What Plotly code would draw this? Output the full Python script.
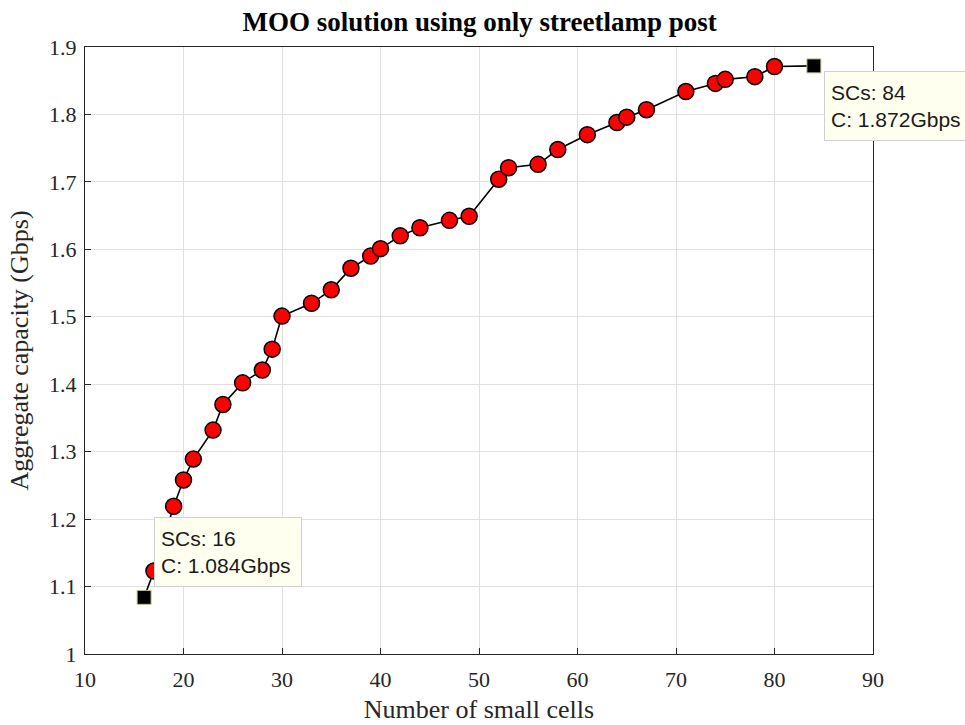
import plotly.graph_objects as go

# Data
sc_counts = [16, 17, 19, 20, 21, 23, 24, 26, 28, 29, 30, 33, 35, 37, 39, 40, 42, 44,
             47, 49, 52, 53, 56, 58, 61, 64, 65, 67, 71, 74, 75, 78, 80, 84]
capacity = [1.084, 1.123, 1.219, 1.258, 1.289, 1.332, 1.370, 1.402, 1.421, 1.452, 1.501,
            1.520, 1.540, 1.572, 1.590, 1.601, 1.620, 1.632, 1.643, 1.649, 1.704, 1.721,
            1.726, 1.748, 1.770, 1.788, 1.796, 1.807, 1.834, 1.846, 1.852, 1.856, 1.871, 1.872]

x_ticks = [10, 20, 30, 40, 50, 60, 70, 80, 90]
y_ticks = [1.0, 1.1, 1.2, 1.3, 1.4, 1.5, 1.6, 1.7, 1.8, 1.9]
y_tick_labels = ["1", "1.1", "1.2", "1.3", "1.4", "1.5", "1.6", "1.7", "1.8", "1.9"]

end_x = [sc_counts[0], sc_counts[-1]]
end_y = [capacity[0], capacity[-1]]

serif = "Liberation Serif, Times New Roman, serif"

fig = go.Figure()
fig.add_trace(go.Scatter(
    x=sc_counts, y=capacity, mode="lines",
    line=dict(color="black", width=1.6),
    showlegend=False, hoverinfo="skip"))
fig.add_trace(go.Scatter(
    x=sc_counts[1:-1], y=capacity[1:-1], mode="markers",
    marker=dict(symbol="circle", size=16, color="#ff0000",
                line=dict(color="black", width=1.5)),
    showlegend=False, hoverinfo="skip"))
fig.add_trace(go.Scatter(
    x=end_x, y=end_y, mode="markers",
    marker=dict(symbol="square", size=14, color="black",
                line=dict(color="#c8c890", width=1)),
    showlegend=False, hoverinfo="skip"))

ann_common = dict(xref="x", yref="y", showarrow=True, arrowcolor="rgba(0,0,0,0)",
                  arrowwidth=0.1, bgcolor="#fffff0", bordercolor="#d0d0d0", borderwidth=1,
                  align="left", width=134, height=56, borderpad=6,
                  font=dict(family="Liberation Sans, Arial, sans-serif", size=21, color="#1a1a1a"))
fig.add_annotation(x=end_x[0], y=end_y[0], ax=84, ay=-45,
                   text=f"SCs: {end_x[0]}<br>C: {end_y[0]:.3f}Gbps", **ann_common)
fig.add_annotation(x=end_x[1], y=end_y[1], ax=84, ay=40,
                   text=f"SCs: {end_x[1]}<br>C: {end_y[1]:.3f}Gbps", **ann_common)

axis_common = dict(showline=True, linecolor="#262626", linewidth=1, mirror=True,
                   ticks="inside", ticklen=6, tickcolor="#262626", automargin=False,
                   showgrid=True, gridcolor="#e0e0e0", gridwidth=1, zeroline=False,
                   tickfont=dict(family=serif, size=22, color="#262626"))

fig.update_layout(
    width=965, height=725,
    margin=dict(l=85, r=92, t=47, b=71),
    paper_bgcolor="white", plot_bgcolor="white",
    title=dict(text="<b>MOO solution using only streetlamp post</b>",
               x=0.497, xanchor="center", y=0.970, yanchor="middle",
               font=dict(family=serif, size=27, color="black")),
    xaxis=dict(range=[10, 90], tickvals=x_ticks, ticklabelstandoff=6,
               title=dict(text="Number of small cells", standoff=8,
                          font=dict(family=serif, size=26, color="#262626")),
               **axis_common),
    yaxis=dict(range=[1, 1.9], tickvals=y_ticks, ticktext=y_tick_labels, ticklabelstandoff=3,
               title=dict(text="Aggregate capacity (Gbps)", standoff=12,
                          font=dict(family=serif, size=26, color="#262626")),
               **axis_common),
)

fig.write_html("out.html")
